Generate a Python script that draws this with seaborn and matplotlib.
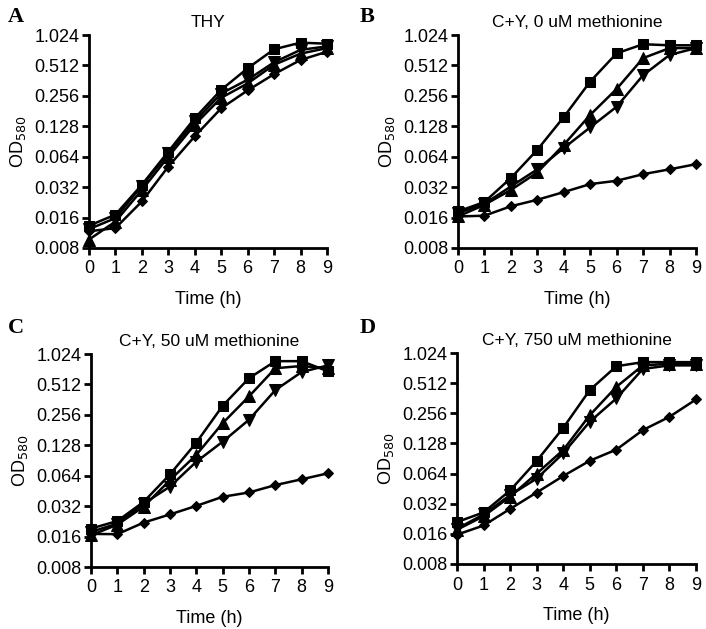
import numpy as np
import pandas as pd
import matplotlib
matplotlib.use("Agg")
import matplotlib.pyplot as plt
import matplotlib.ticker as mticker
import seaborn as sns

sns.set_theme(style="ticks")
plt.rcParams['font.family'] = ['Liberation Sans', 'DejaVu Sans']

# ---------------- data ----------------
hours = [0, 1, 2, 3, 4, 5, 6, 7, 8, 9]

panel_titles = ["THY", "C+Y, 0 uM methionine",
                "C+Y, 50 uM methionine", "C+Y, 750 uM methionine"]
panel_letters = ["A", "B", "C", "D"]

# A: THY
a_square = [0.0133, 0.0171, 0.0338, 0.072, 0.154, 0.294, 0.48, 0.74, 0.86, 0.84]
a_tri    = [0.0097, 0.0146, 0.030, 0.064, 0.133, 0.245, 0.34, 0.52, 0.67, 0.76]
a_vtri   = [0.0123, 0.0158, 0.033, 0.069, 0.143, 0.27, 0.37, 0.55, 0.73, 0.79]
a_diam   = [0.0117, 0.0126, 0.0231, 0.0512, 0.102, 0.193, 0.29, 0.42, 0.58, 0.70]

# B: C+Y, 0 uM methionine
b_square = [0.0184, 0.0228, 0.0394, 0.075, 0.158, 0.355, 0.675, 0.83, 0.81, 0.81]
b_tri    = [0.0164, 0.0214, 0.030, 0.0447, 0.084, 0.166, 0.30, 0.605, 0.76, 0.76]
b_vtri   = [0.0177, 0.0219, 0.0325, 0.048, 0.078, 0.125, 0.20, 0.41, 0.65, 0.76]
b_diam   = [0.0164, 0.0167, 0.0207, 0.024, 0.0286, 0.0343, 0.037, 0.043, 0.048, 0.054]

# C: C+Y, 50 uM methionine
c_square = [0.0192, 0.0228, 0.0353, 0.066, 0.136, 0.315, 0.59, 0.87, 0.87, 0.69]
c_tri    = [0.0165, 0.021, 0.0316, 0.058, 0.103, 0.212, 0.39, 0.74, 0.78, 0.74]
c_vtri   = [0.0178, 0.0215, 0.0339, 0.050, 0.088, 0.139, 0.229, 0.45, 0.68, 0.79]
c_diam   = [0.017, 0.0169, 0.022, 0.0265, 0.0322, 0.0396, 0.0437, 0.0517, 0.059, 0.0676]

# D: C+Y, 750 uM methionine
d_square = [0.021, 0.0262, 0.0434, 0.0855, 0.183, 0.437, 0.755, 0.83, 0.83, 0.83]
d_tri    = [0.0176, 0.024, 0.0377, 0.064, 0.110, 0.245, 0.47, 0.77, 0.80, 0.80]
d_vtri   = [0.018, 0.025, 0.039, 0.057, 0.102, 0.211, 0.36, 0.71, 0.77, 0.77]
d_diam   = [0.0157, 0.0194, 0.0284, 0.0414, 0.0605, 0.086, 0.111, 0.174, 0.236, 0.352]

panels = [
    [a_diam, a_tri, a_vtri, a_square],
    [b_diam, b_tri, b_vtri, b_square],
    [c_diam, c_tri, c_vtri, c_square],
    [d_diam, d_tri, d_vtri, d_square],
]
markers = ["D", "^", "v", "s"]
msizes = [5.5, 8, 8, 7.5]

y_ticks = [0.008, 0.016, 0.032, 0.064, 0.128, 0.256, 0.512, 1.024]

# ---------------- layout ----------------
W, H = 706, 629
fig = plt.figure(figsize=(W / 100, H / 100), dpi=100)

# axes boxes in pixels: left, top, right, bottom
boxes = [(89, 35, 327, 248), (458, 35, 696, 248),
         (91, 354, 328, 567), (457, 353, 696, 564)]
letter_pos = [(8, 22), (360, 22), (8, 333), (360, 333)]

for i, (l, t, r, b) in enumerate(boxes):
    ax = fig.add_axes([l / W, 1 - b / H, (r - l) / W, (b - t) / H])
    for vals, m, ms in zip(panels[i], markers, msizes):
        sns.lineplot(x=hours, y=vals, ax=ax, color="black", marker=m,
                     markersize=ms, markeredgecolor="black", linewidth=1.8,
                     clip_on=False, zorder=3)
    ax.set_yscale("log", base=2)
    ax.set_ylim(0.008, 1.024)
    ax.set_xlim(0, 9)
    ax.set_yticks(y_ticks)
    ax.yaxis.set_major_formatter(mticker.FuncFormatter(lambda v, p: f"{v:.3f}"))
    ax.yaxis.set_minor_locator(mticker.NullLocator())
    ax.set_xticks(hours)
    sns.despine(ax=ax)
    for s in ["left", "bottom"]:
        ax.spines[s].set_linewidth(2)
        ax.spines[s].set_color("black")
    ax.tick_params(axis="both", width=2, length=5, color="black",
                   labelsize=13, labelcolor="black", pad=2)
    ax.tick_params(axis="x", pad=4)
    ax.set_xlabel("Time (h)", fontsize=13, color="black", labelpad=10)
    ax.set_ylabel("OD$_{580}$", fontsize=13, color="black", labelpad=4)
    ax.set_title(panel_titles[i], fontsize=12.5, color="black", pad=6)
    fig.text(letter_pos[i][0] / W, 1 - letter_pos[i][1] / H, panel_letters[i],
             fontsize=16, fontweight="bold", family="Liberation Serif",
             color="black", va="baseline")

fig.savefig("out.png", dpi=100, facecolor="white")
